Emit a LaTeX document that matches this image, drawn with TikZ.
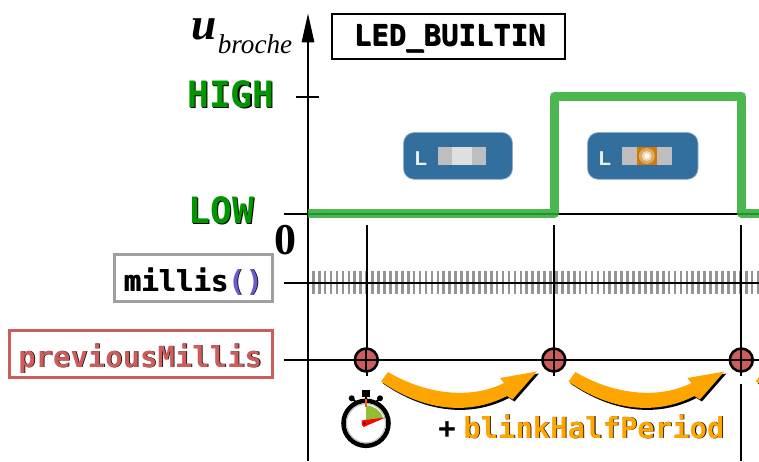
\documentclass[tikz,border=0pt]{standalone}
\usepackage{fontspec}
\setmainfont{Liberation Serif}
\setsansfont{Liberation Sans}
\setmonofont{DejaVu Sans Mono}
\usetikzlibrary{arrows.meta}
\definecolor{ledgreen}{HTML}{2CAB31}
\definecolor{txtgreen}{HTML}{009600}
\definecolor{prevred}{HTML}{CD5C5C}
\definecolor{boardblue}{HTML}{336F9E}
\definecolor{arrorange}{HTML}{FFA500}
\definecolor{parenblue}{HTML}{6A5ACD}
\definecolor{chipgray}{HTML}{BEBEBE}
\definecolor{chiporange}{HTML}{CC7A0A}
\tikzset{
  x=0.75pt,y=-0.75pt,
  axisline/.style={line width=2.2pt,black},
  gridline/.style={line width=1.6pt,black},
  vline/.style={line width=1.5pt,black},
  codetxt/.style={font=\ttfamily\bfseries\fontsize{21.7}{24}\selectfont,inner sep=0pt,anchor=base west},
  hilow/.style={font=\ttfamily\bfseries\fontsize{27.2}{30}\selectfont,inner sep=0pt,anchor=base west},
  boxed/.style={line width=#1,fill=white,inner sep=0pt,anchor=north west},
  board/.style={fill=boardblue,draw=boardblue!55!white,line width=0.5pt,rounded corners=8pt},
  ledl/.style={font=\sffamily\bfseries\fontsize{15}{15}\selectfont,text=white!90!boardblue,inner sep=0pt,anchor=base west},
  tick/.style={line width=2pt,black!42},
}
\newcommand{\blockarrow}{(388,372) .. controls (425,394) and (470,400) .. (504,383) -- (500,378) -- (537,371.5) -- (512.5,399.5) -- (507,396) .. controls (470,415) and (425,412) .. (381,381.5) -- cycle}
% one text with its dark drop shadow: #1 offset, #2 shadow text, #3 visible text
\newcommand{\shtxt}[3]{\rlap{\kern#1\raisebox{-#1}{\textcolor{black}{#2}}}#3}
\begin{document}
\begin{tikzpicture}
\useasboundingbox (0,0) rectangle (759,461);
\fill[white] (0,0) rectangle (759,461);
\begin{scope}
\clip (0,0) rectangle (759,461);

% grey millis ticks
\foreach \i in {0,...,75} {\draw[tick] ({313.3+5.93*\i},271) -- ({313.3+5.93*\i},294);}

% axes and grid
\coordinate (axbot) at (308,461);
\coordinate (axtop) at (308,13);
\draw[axisline,-{Triangle[length=22pt,width=9pt]}] (axbot) -- (axtop);
\coordinate (hi0) at (296,96.7); \coordinate (hi1) at (319,96.7);
\draw[gridline] (hi0) -- (hi1);
\foreach \yy/\nm in {213.7/a,283/b,360/c} {
  \coordinate (l\nm) at (284,\yy); \coordinate (r\nm) at (759,\yy);
  \draw[gridline] (l\nm) -- (r\nm);
}
\foreach \xx in {366.5,553.8} {\draw[vline] (\xx,225) -- (\xx,376);}
\draw[vline] (741.3,225) -- (741.3,376);
\draw[vline] (741.3,384) -- (741.3,461);

% signal
\draw[ledgreen,opacity=0.85,line width=6.6pt,line join=round] (308,213.3) -- (554.5,213.3) -- (554.5,96.2) -- (741.6,96.2) -- (741.6,213.3) -- (759,213.3);

% labels
\node[inner sep=0pt,anchor=base west] (ulab) at (191,39.5) {\fontsize{34}{34}\selectfont\bfseries\itshape u};
\node[inner sep=0pt,anchor=base west] (ulabs) at (217.5,53) {\fontsize{20.4}{22}\selectfont\itshape broche};

\node[draw=black,boxed=1.5pt,minimum width=174.5pt,minimum height=34.2pt] (title) at (331,12.7) {};
\node[codetxt,text=black] (titletxt) at (353.7,45.7) {\shtxt{0.5pt}{LED\_BUILTIN}{LED\_BUILTIN}};

\node[hilow,text=txtgreen] (hightxt) at (187,107.4) {\shtxt{0.8pt}{HIGH}{HIGH}};
\node[hilow,text=txtgreen] (lowtxt) at (188.3,223) {\shtxt{0.8pt}{LOW}{LOW}};

\node[inner sep=0pt,font=\bfseries\fontsize{33}{33}\selectfont,anchor=base] (zero) at (285.5,254) {0};

\node[draw=gray!75,boxed=2.5pt,minimum width=118.2pt,minimum height=35pt] (millisbox) at (113,253) {};
\node[codetxt,text=black] (millistxt) at (123.4,291) {\shtxt{0.5pt}{millis()}{millis\textcolor{parenblue}{()}}};

\node[draw=prevred,boxed=2.6pt,minimum width=196.9pt,minimum height=34.9pt] (prevbox) at (8,329) {};
\node[codetxt,text=prevred] (prevtxt) at (18,367) {\shtxt{0.6pt}{previousMillis}{previousMillis}};

% LED boards
\fill[board] (403.5,132.5) rectangle (512.5,179.3);
\fill[board] (587.5,132.5) rectangle (698,179.3);
\node[ledl] (l1) at (414.5,165) {L};
\node[ledl] (l2) at (598.5,165) {L};
\fill[chipgray] (438,147.3) rectangle (486,165.3);
\fill[gray!25] (452,147.3) rectangle (472,165.3);
\fill[chipgray] (622,147.3) rectangle (671.7,165.3);
\fill[chiporange] (636.7,147.3) rectangle (657,165.3);
\fill[chiporange!65!white] (646.8,156) circle (8);
\fill[chiporange!30!white] (646.8,156) circle (5);
\fill[white] (646.8,156) circle (2.5);

% markers
\foreach \xx/\nm in {366.3/m1,553.8/m2,741.3/m3} {
  \fill[prevred] (\xx,360) circle (11.5);
  \draw[gridline] (\xx,348) -- (\xx,372);
  \draw[gridline] (\xx-12,360) -- (\xx+12,360);
  \draw[black,line width=1.9pt] (\xx,360) circle (11.5);
}

% curved arrows
\foreach \dx in {0,187.4,374.8} {
\begin{scope}[xshift=\dx*0.75pt]
\fill[black,shift={(1.5pt,-1.5pt)}] \blockarrow;
\fill[arrorange] \blockarrow;
\end{scope}
}

% plus text
\node[codetxt,text=black] (plus) at (438,438) {+};
\node[codetxt,text=arrorange] (bhp) at (463,438) {\shtxt{0.6pt}{blinkHalfPeriod}{blinkHalfPeriod}};

% stopwatch
\fill[black] (362,390) rectangle (369.5,396.7);
\draw[black,line width=1.6pt] (366,396) -- (366,400);
\fill[black] (351.7,398.3) circle (3);
\fill[black] (380,398.3) circle (3);
\draw[black,line width=1.5pt] (351.7,398.3) -- (357,403);
\draw[black,line width=1.5pt] (380,398.3) -- (375,403);
\draw[black,line width=3.4pt,fill=white] (366,423.3) circle (22.5);
\draw[gray!50,line width=0.8pt] (366,423.3) circle (19.5);
\fill[yellow!60!green!85!black] (366,405.5) arc (-90:-17:17.8) -- (366,423.3) -- cycle;
\fill[red] (361.5,420.5) -- (385.5,417.5) -- (363.5,427) -- cycle;
\fill[red] (364.5,423.5) circle (3);
\fill[black] (364.5,423.5) circle (1.2);
\draw[orange!70!red,line width=1.5pt] (366,399) -- (366,407);
\end{scope}
\end{tikzpicture}
\end{document}
